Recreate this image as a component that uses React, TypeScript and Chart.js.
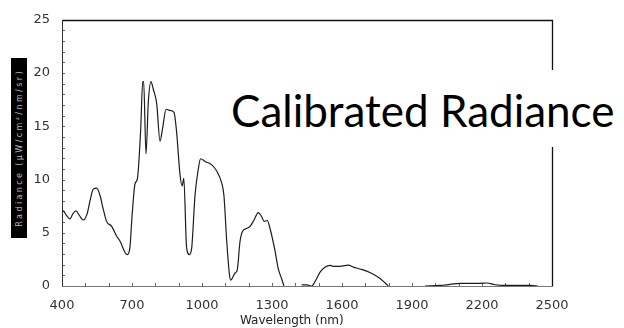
import React, { useEffect, useRef } from "react";
import { Chart, registerables } from "chart.js";

Chart.register(...registerables);

// Spectrum samples: wavelength (nm) and calibrated radiance; null marks a break in the trace
const wavelengthsNm = [
  400, 406, 420, 434, 447, 460, 475, 491, 508, 520, 534, 549, 563, 577, 591, 613,
  634, 649, 670, 680, 691, 700, 713, 723, 737, 746, 750, 760, 770, 781, 791, 806,
  820, 831, 846, 860, 880, 891, 906, 915, 922, 934, 946, 956, 970, 984, 994, 1013,
  1041, 1063, 1084, 1094, 1106, 1117, 1123, 1141, 1151, 1163, 1174, 1191, 1206,
  1223, 1241, 1256, 1266, 1280, 1291, 1313, 1327, 1341, 1351, 1390, 1427, 1450,
  1470, 1484, 1506, 1527, 1549, 1563, 1577, 1599, 1627, 1649, 1677, 1706, 1734,
  1763, 1784, 1799, 1880, 1956, 2020, 2063, 2106, 2150, 2191, 2220, 2256, 2306,
  2406, 2440,
];

const radiance = [
  7.1, 7.05, 6.6, 6.3, 6.8, 7.05, 6.6, 6.2, 6.8, 8.0, 9.1, 9.2, 8.5, 7.2, 6.07, 5.6,
  4.7, 4.2, 3.15, 2.94, 3.6, 6.5, 9.6, 10.05, 14.6, 19.2, 19.2, 12.4, 17.3, 19.2, 18.5, 17.1,
  13.6, 14.8, 16.6, 16.5, 16.3, 14.5, 10.4, 9.4, 10.1, 3.6, 2.94, 3.6, 8.5, 10.96, 11.95, 11.7,
  11.4, 10.8, 9.7, 8.5, 4.2, 1.2, 0.55, 1.2, 1.5, 4.2, 5.15, 5.4, 5.6,
  6.2, 6.9, 6.5, 6.07, 6.15, 5.45, 3.3, 1.6, 0.7, 0, null, 0.1, 0.1,
  0, 0.4, 1.3, 1.77, 1.93, 1.85, 1.84, 1.87, 1.96, 1.77, 1.6, 1.4, 1.1,
  0.7, 0.3, 0, null, 0, 0.05, 0.15, 0.25, 0.25, 0.25, 0.28, 0.12, 0.05,
  0.05, 0,
];

const xTickLabels = [400, 700, 1000, 1300, 1600, 1900, 2200, 2500];
const yTickLabels = [0, 5, 10, 15, 20, 25];

const tickFont = { family: "'DejaVu Sans', sans-serif", size: 13 };

// Frame and short inward tick marks, drawn under the trace
const frameAndTicks = {
  id: "frameAndTicks",
  beforeDatasetsDraw(chart: any) {
    const { ctx, chartArea: a, scales } = chart;
    const x = scales.x;
    const y = scales.y;
    ctx.save();
    ctx.lineWidth = 1;
    ctx.strokeStyle = "#666";
    ctx.beginPath();
    x.ticks.forEach((t: any) => {
      const px = Math.round(x.getPixelForValue(t.value)) + 0.5;
      ctx.moveTo(px, a.bottom);
      ctx.lineTo(px, a.bottom - 3);
    });
    y.ticks.forEach((t: any) => {
      const py = Math.round(y.getPixelForValue(t.value)) + 0.5;
      ctx.moveTo(a.left, py);
      ctx.lineTo(a.left + 3, py);
    });
    ctx.stroke();

    const l = Math.round(a.left) + 0.5;
    const r = Math.round(a.right) + 0.5;
    const tp = Math.round(a.top) + 0.5;
    const b = Math.round(a.bottom) + 0.5;
    ctx.lineWidth = 1.3;
    ctx.strokeStyle = "#111";
    ctx.beginPath();
    ctx.moveTo(l, tp);
    ctx.lineTo(r, tp);
    ctx.lineTo(r, b);
    ctx.stroke();
    ctx.lineWidth = 1;
    ctx.strokeStyle = "#333";
    ctx.beginPath();
    ctx.moveTo(l, tp);
    ctx.lineTo(l, b);
    ctx.stroke();
    ctx.strokeStyle = "#777";
    ctx.beginPath();
    ctx.moveTo(l, b);
    ctx.lineTo(r, b);
    ctx.stroke();
    ctx.restore();
  },
};

export default function App() {
  const canvasRef = useRef<HTMLCanvasElement | null>(null);

  useEffect(() => {
    const canvas = canvasRef.current;
    if (!canvas) return;
    const points = wavelengthsNm.map((w, i) => ({ x: w, y: radiance[i] }));
    const chart = new Chart(canvas, {
      type: "line",
      data: {
        datasets: [
          {
            data: points as any,
            borderColor: "#1c1c1c",
            borderWidth: 1.2,
            pointRadius: 0,
            fill: false,
            spanGaps: false,
            cubicInterpolationMode: "monotone",
          },
        ],
      },
      options: {
        animation: false,
        responsive: true,
        maintainAspectRatio: false,
        layout: { padding: { left: 0, top: 14, right: 72, bottom: 0 } },
        plugins: {
          legend: { display: false },
          tooltip: { enabled: false },
          title: { display: false },
        },
        scales: {
          x: {
            type: "linear",
            min: 400,
            max: 2500,
            grid: { display: false, drawTicks: false },
            border: { display: false },
            ticks: {
              stepSize: 100,
              autoSkip: false,
              maxRotation: 0,
              padding: 12,
              color: "#333",
              font: tickFont,
              callback: (v: any) => (xTickLabels.includes(Number(v)) ? String(v) : ""),
            },
            afterFit: (s: any) => {
              s.height = 42;
            },
          },
          y: {
            type: "linear",
            min: 0,
            max: 25,
            grid: { display: false, drawTicks: false },
            border: { display: false },
            ticks: {
              stepSize: 1,
              autoSkip: false,
              padding: 12,
              color: "#333",
              font: tickFont,
              callback: (v: any) => (yTickLabels.includes(Number(v)) ? String(v) : ""),
            },
            afterFit: (s: any) => {
              s.width = 62;
            },
          },
        },
      },
      plugins: [frameAndTicks],
    });
    return () => chart.destroy();
  }, []);

  return (
    <div
      style={{
        position: "absolute",
        left: 0,
        top: 0,
        width: 624,
        height: 328,
        background: "#fff",
        overflow: "hidden",
      }}
    >
      <canvas ref={canvasRef} />
      {/* y-axis title block */}
      <div
        style={{
          position: "absolute",
          left: 11,
          top: 58,
          width: 16,
          height: 180,
          background: "#000",
          display: "flex",
          alignItems: "center",
          justifyContent: "center",
        }}
      >
        <span
          style={{
            writingMode: "vertical-rl",
            transform: "rotate(180deg)",
            color: "#bbb",
            fontFamily: "'DejaVu Sans', sans-serif",
            fontSize: 8,
            letterSpacing: 2.4,
            whiteSpace: "nowrap",
          }}
        >
          Radiance (μW/cm²/nm/sr)
        </span>
      </div>
      {/* x-axis title */}
      <div
        style={{
          position: "absolute",
          left: 240,
          top: 313,
          fontFamily: "'DejaVu Sans', sans-serif",
          fontSize: 12,
          lineHeight: "14px",
          color: "#222",
          whiteSpace: "nowrap",
        }}
      >
        Wavelength (nm)
      </div>
      {/* caption panel */}
      <div
        style={{
          position: "absolute",
          left: 225,
          top: 70,
          width: 399,
          height: 77,
          background: "#fff",
        }}
      />
      <div
        style={{
          position: "absolute",
          left: 231,
          top: 88,
          fontFamily: "Lato, sans-serif",
          fontSize: 44,
          lineHeight: "44px",
          color: "#000",
          whiteSpace: "nowrap",
        }}
      >
        Calibrated Radiance
      </div>
    </div>
  );
}
